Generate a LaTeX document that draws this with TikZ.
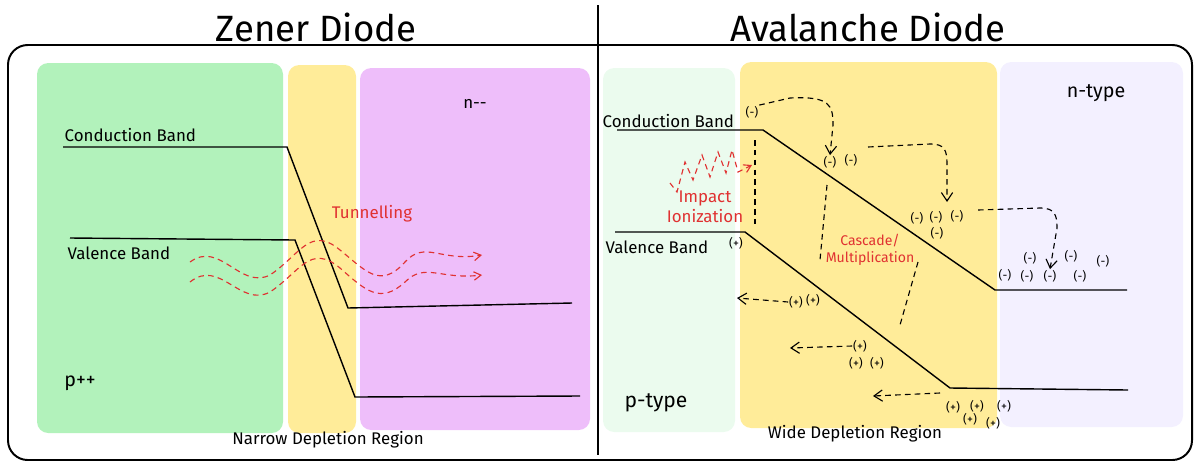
\documentclass[tikz,border=0pt]{standalone}
\usepackage{fontspec}
\setmainfont{Fira Sans}
\usetikzlibrary{arrows.meta}
\definecolor{zgreen}{HTML}{B2F2BB}
\definecolor{zyellow}{HTML}{FFEC99}
\definecolor{zpurple}{HTML}{EEBEFA}
\definecolor{agreen}{HTML}{EBFBEE}
\definecolor{apurple}{HTML}{F3F0FF}
\definecolor{hand}{HTML}{E03131}
\tikzset{
  region/.style={draw=none,rounded corners=8pt},
  band/.style={line width=1pt,black},
  lbl/.style={font=\fontsize{12}{14}\selectfont,inner sep=1pt},
  note/.style={lbl,text=hand,align=center},
  chg/.style={font=\fontsize{8.5}{10}\selectfont,inner sep=0.5pt},
  cut/.style={dash pattern=on 4pt off 3pt,line width=0.8pt},
  flow/.style={cut,-{Straight Barb[length=6pt,width=8pt]}},
  wave/.style={dash pattern=on 4pt off 3pt,hand,line width=0.8pt,-{Straight Barb[length=5pt,width=6pt]}}
}
\begin{document}
\begin{tikzpicture}[x=0.025cm,y=-0.025cm]
\useasboundingbox (0,0) rectangle (1200,468);
\draw[line width=1.4pt,rounded corners=14pt] (8,45) rectangle (1192,460);
\draw[line width=0.8pt] (598,5) -- (598,455);
\node[font=\fontsize{26}{30}\selectfont] (ztitle) at (316,27) {Zener Diode};
\node[font=\fontsize{26}{30}\selectfont] (atitle) at (868,27) {Avalanche Diode};
% Zener regions
\fill[region,zgreen] (37,63) rectangle (283,433);
\fill[region,zyellow] (288,65) rectangle (356,433);
\fill[region,zpurple] (360,68) rectangle (590,430);
\draw[band] (63,147) -- (287,147) -- (348,308) -- (572,303);
\draw[band] (70,238) -- (295,240) -- (355,397) -- (580,396);
\node[lbl,anchor=west] (zcb) at (63,135) {Conduction Band};
\node[lbl,anchor=west] (zvb) at (66,253) {Valence Band};
\node[lbl] (zn) at (475,104) {n-{}-};
\node[lbl,font=\fontsize{14}{16}\selectfont] (zp) at (80,383) {p++};
\node[note] (ztun) at (372,214) {Tunnelling};
\node[lbl] (zdep) at (328,440) {Narrow Depletion Region};
\draw[wave] (190,262) .. controls (220,240) and (240,290) .. (270,275) .. controls (300,255) and (310,225) .. (340,250) .. controls (365,270) and (380,290) .. (405,262) .. controls (425,240) and (440,262) .. (482,255);
\draw[wave] (190,282) .. controls (220,258) and (240,308) .. (270,292) .. controls (300,272) and (310,243) .. (340,268) .. controls (365,290) and (380,305) .. (405,282) .. controls (425,262) and (440,280) .. (482,275);
% Avalanche regions
\fill[region,agreen] (603,68) rectangle (735,432);
\fill[region,zyellow] (740,62) rectangle (997,428);
\fill[region,apurple] (1000,62) rectangle (1183,427);
\draw[band] (617,130) -- (763,130) -- (995,290) -- (1127,290);
\draw[band] (615,232) -- (745,232) -- (950,388) -- (1128,390);
\node[lbl,anchor=west] (acb) at (601,121) {Conduction Band};
\node[lbl,anchor=west] (avb) at (604,247) {Valence Band};
\node[lbl,font=\fontsize{14}{16}\selectfont] (an) at (1096,93) {n-type};
\node[lbl,font=\fontsize{15}{17}\selectfont] (ap) at (656,403) {p-type};
\node[lbl] (adep) at (855,434) {Wide Depletion Region};
\node[note] (aimp) at (705,207) {Impact\\Ionization};
\node[note,font=\fontsize{10}{12}\selectfont] (acas) at (870,250) {Cascade/\\Multiplication};
% electrons
\foreach \px/\py [count=\i] in {752/112,830/162,851/160,917/218,936/217,957/216,937/233,
  1030/258,1071/256,1103/261,1005/275,1027/276,1050/276,1080/276}
  \node[chg] (e\i) at (\px,\py) {(-)};
% holes
\foreach \px/\py [count=\i] in {736/243,796/302,813/300,860/346,856/363,877/363,
  953/407,977/406,1004/406,970/419,993/423}
  \node[chg] (h\i) at (\px,\py) {(+)};
% carrier paths
\draw[cut] (755,140) -- (755,225);
\draw[flow] (e1.north east) -- (790,98) .. controls (830,96) and (833,105) .. (833,125) -- (e2.north);
\draw[flow] (868,147) -- (930,144) .. controls (945,144) and (947,150) .. (947,165) -- (947,202);
\draw[flow] (978,210) -- (1040,208) .. controls (1055,208) and (1057,215) .. (1057,228) -- (e13.north);
\draw[cut] (827,185) -- (820,260);
\draw[cut] (918,262) -- (900,325);
\draw[flow] (h2.west) -- (737,298);
\draw[flow] (h4.west) -- (790,348);
\draw[flow] (940,393) -- (873,396);
\draw[wave] (670,183) -- (677,192) -- (685,162) -- (693,180) -- (702,155) -- (710,177) -- (718,152) -- (726,173) -- (732,150) -- (738,172) -- (752,165);
\end{tikzpicture}
\end{document}
